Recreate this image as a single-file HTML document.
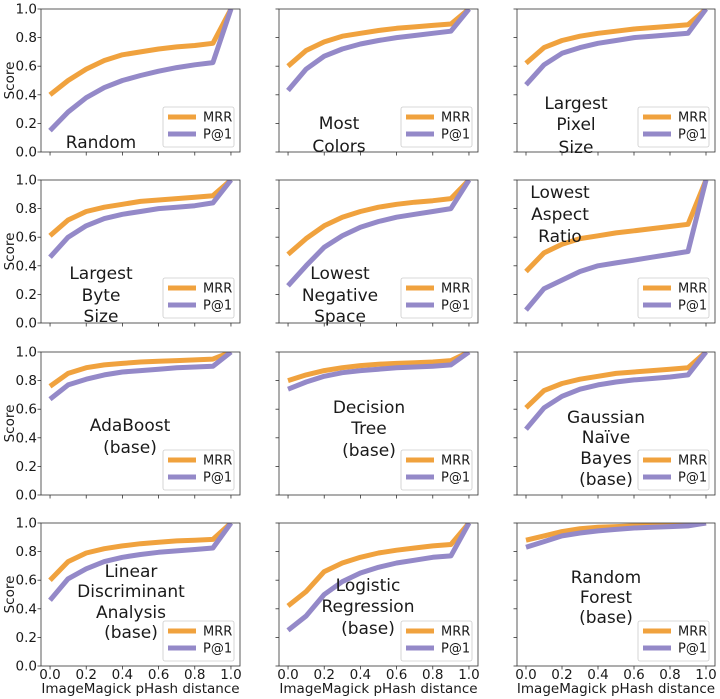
<!DOCTYPE html>
<html><head><meta charset="utf-8"><style>
html,body{margin:0;padding:0;background:#fff;width:720px;height:699px;overflow:hidden}
svg text{font-family:"DejaVu Sans","Liberation Sans",sans-serif;fill:#1a1a1a}
</style></head><body>
<svg id="s" width="720" height="699" xmlns="http://www.w3.org/2000/svg"></svg>
<script>
const cols=[[41,240],[279,478],[517,715]];
const rows=[[9,152],[180,323],[352,495],[523,666]];
const P=[
["Random",[.40,.50,.58,.64,.68,.70,.72,.735,.745,.76,1],[.15,.28,.38,.45,.50,.535,.565,.59,.61,.625,1],["Random"],60,[133]],
["Most",[.60,.71,.77,.81,.83,.85,.865,.875,.885,.895,1],[.43,.58,.67,.72,.755,.78,.80,.815,.83,.845,1],["Most","Colors"],60,[114,137]],
["LPS",[.62,.73,.78,.81,.83,.845,.86,.87,.88,.89,1],[.47,.61,.69,.73,.76,.78,.80,.81,.82,.83,1],["Largest","Pixel","Size"],59,[94,115,138]],
["LBS",[.61,.72,.78,.81,.83,.85,.86,.87,.88,.89,1],[.46,.60,.68,.73,.76,.78,.80,.81,.82,.84,1],["Largest","Byte","Size"],60,[93,115,136]],
["LNS",[.48,.59,.68,.74,.78,.81,.83,.845,.855,.87,1],[.26,.40,.53,.61,.67,.71,.74,.76,.78,.80,1],["Lowest","Negative","Space"],61,[93,115,136]],
["LAR",[.36,.49,.55,.59,.61,.63,.645,.66,.675,.69,1],[.09,.24,.30,.36,.40,.42,.44,.46,.48,.50,1],["Lowest","Aspect","Ratio"],43,[12,34,56]],
["Ada",[.76,.85,.89,.91,.92,.93,.935,.94,.945,.95,1],[.67,.77,.81,.84,.86,.87,.88,.89,.895,.90,1],["AdaBoost","(base)"],89,[73,95]],
["DT",[.80,.84,.87,.89,.905,.915,.92,.925,.93,.94,1],[.74,.79,.83,.855,.87,.88,.89,.895,.90,.91,1],["Decision","Tree","(base)"],90,[55,76,98]],
["GNB",[.61,.73,.78,.81,.83,.85,.86,.87,.88,.89,1],[.46,.61,.69,.74,.77,.79,.805,.815,.825,.84,1],["Gaussian","Naïve","Bayes","(base)"],89,[65,85,106,127]],
["LDA",[.60,.73,.79,.82,.84,.855,.865,.875,.88,.885,1],[.46,.61,.68,.73,.76,.78,.795,.805,.815,.825,1],["Linear","Discriminant","Analysis","(base)"],90,[48,68,89,109]],
["LR",[.42,.52,.66,.72,.76,.79,.81,.825,.84,.85,1],[.25,.35,.50,.59,.65,.69,.72,.74,.76,.77,1],["Logistic","Regression","(base)"],89,[62,83,105]],
["RF",[.88,.91,.94,.96,.97,.975,.98,.985,.99,.99,1],[.83,.87,.91,.93,.945,.955,.965,.97,.975,.98,1],["Random","Forest","(base)"],89,[54,74,94]]
];
let h='';
const OR='#f0a23e',PU='#9489c8';
P.forEach((p,i)=>{
 const r=Math.floor(i/3),c=i%3;
 const [x0,x1]=cols[c],[y0,y1]=rows[r];
 const W=x1-x0,H=y1-y0;
 const X=v=>x0+(v+0.05)/1.1*W, Y=v=>y1-v*H;
 h+=`<defs><clipPath id="c${i}"><rect x="${x0}" y="${y0}" width="${W}" height="${H}"/></clipPath></defs>`;
 [[p[1],OR],[p[2],PU]].forEach(([d,col])=>{
  h+=`<polyline clip-path="url(#c${i})" fill="none" stroke="${col}" stroke-width="5" stroke-linejoin="round" points="${d.map((v,k)=>X(k/10).toFixed(1)+','+Y(v).toFixed(1)).join(' ')}"/>`;
 });
 h+=`<rect x="${x0}" y="${y0}" width="${W}" height="${H}" fill="none" stroke="#333" stroke-width="0.8"/>`;
 for(let k=0;k<=5;k++){
  const yy=Y(k/5),xx=X(k/5);
  h+=`<line x1="${x0-3.5}" x2="${x0}" y1="${yy}" y2="${yy}" stroke="#333" stroke-width="0.8"/>`;
  h+=`<line x1="${xx}" x2="${xx}" y1="${y1}" y2="${y1+3.5}" stroke="#333" stroke-width="0.8"/>`;
  if(c==0) h+=`<text x="${x0-4}" y="${yy+4.5}" font-size="13.5" text-anchor="end">${(k/5).toFixed(1)}</text>`;
  if(r==3) h+=`<text x="${xx}" y="${y1+13}" font-size="13.5" text-anchor="middle">${(k/5).toFixed(1)}</text>`;
 }
 if(c==0) h+=`<text transform="translate(14,${(y0+y1)/2}) rotate(-90)" font-size="13.5" text-anchor="middle">Score</text>`;
 if(r==3) h+=`<text x="${(x0+x1)/2}" y="${y1+27}" font-size="13.5" text-anchor="middle">ImageMagick pHash distance</text>`;
 const lx=x1-77,ly=y1-45;
 h+=`<rect x="${lx}" y="${ly}" width="71" height="40" rx="2" fill="#fff" fill-opacity="0.8" stroke="#ccc" stroke-width="0.8"/>`;
 h+=`<line x1="${lx+5}" x2="${lx+33}" y1="${ly+10}" y2="${ly+10}" stroke="${OR}" stroke-width="5"/>`;
 h+=`<line x1="${lx+5}" x2="${lx+33}" y1="${ly+27}" y2="${ly+27}" stroke="${PU}" stroke-width="5"/>`;
 h+=`<text x="${lx+40}" y="${ly+14.5}" font-size="13">MRR</text>`;
 h+=`<text x="${lx+40}" y="${ly+31.5}" font-size="13">P@1</text>`;
 p[3].forEach((t,k)=>{
  h+=`<text x="${x0+p[4]}" y="${y0+p[5][k]+6}" font-size="17" text-anchor="middle">${t}</text>`;
 });
});
document.getElementById('s').innerHTML=h;
</script>
</body></html>
